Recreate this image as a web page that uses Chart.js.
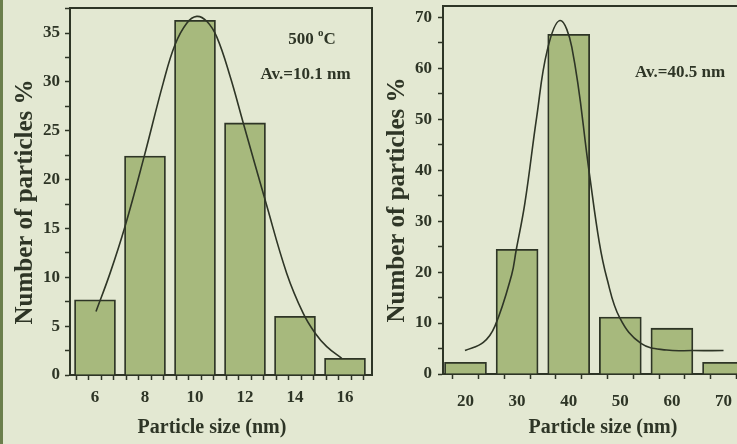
<!DOCTYPE html>
<html><head><meta charset="utf-8">
<script src="https://cdn.jsdelivr.net/npm/chart.js@4"></script>
<style>
html,body{margin:0;padding:0;width:737px;height:444px;overflow:hidden;background:#e3e8d2;}
#wrap{position:relative;width:737px;height:444px;overflow:hidden;background:#e3e8d2;}
#c1{position:absolute;left:0;top:0;}
#c2{position:absolute;left:372px;top:0;}
#edge{position:absolute;left:0;top:0;width:3px;height:444px;background:#6b7f4c;}
</style></head><body>
<div id="wrap"><canvas id="c1" width="380" height="444"></canvas><canvas id="c2" width="400" height="444"></canvas><div id="edge"></div></div>
<script>
// ---- data ----
const leftSizes   = [6, 8, 10, 12, 14, 16];
const leftPercent = [7.7, 22.4, 36.3, 25.8, 6.0, 1.7];
const leftFitX = [6.04, 6.6, 7.2, 7.96, 8.73, 9.2, 9.67, 10.07, 10.47, 10.87, 11.4, 11.93, 12.84, 13.67, 14.33, 14.8, 15.27, 15.87];
const leftFitY = [6.5, 10.4, 15.2, 22.3, 29.9, 33.8, 36.0, 36.7, 36.2, 34.6, 30.6, 25.8, 17.6, 10.4, 6.3, 4.3, 2.9, 1.7];
const leftXLabels = [6, 8, 10, 12, 14, 16];
const leftYLabels = [0, 5, 10, 15, 20, 25, 30, 35];

const rightSizes   = [20, 30, 40, 50, 60, 70];
const rightPercent = [2.3, 24.5, 66.7, 11.2, 9.0, 2.3];
const rightFitX = [19.9, 23.45, 25.7, 28.95, 29.8, 31.5, 33.8, 35.85, 38.3, 40.6, 44.0, 45.9, 47.4, 49.9, 54.0, 59.0, 64.0, 70.0];
const rightFitY = [4.6, 6.2, 9.4, 19.5, 24.2, 33.5, 50.5, 63.6, 69.4, 64.2, 39.4, 26.0, 18.8, 11.0, 6.0, 4.7, 4.6, 4.6];
const rightXLabels = [20, 30, 40, 50, 60, 70];
const rightYLabels = [0, 10, 20, 30, 40, 50, 60, 70];

// ---- styling ----
const INK = '#2e3526';
const BAR = '#a7b97d';
const FONT = '"Liberation Serif", "Times New Roman", serif';

function overlay(texts){
  return {
    id: 'overlay',
    afterDraw(chart){
      const ctx = chart.ctx, a = chart.chartArea;
      ctx.save();
      ctx.strokeStyle = INK; ctx.lineWidth = 2;
      ctx.beginPath();
      ctx.moveTo(a.left, a.top); ctx.lineTo(a.right, a.top); ctx.lineTo(a.right, a.bottom);
      ctx.stroke();
      ctx.fillStyle = INK;
      ctx.textBaseline = 'middle';
      texts.forEach(t => {
        ctx.save();
        ctx.translate(t.x, t.y);
        if (t.rot) ctx.rotate(t.rot);
        const runs = t.runs || [{t: t.t, size: t.size, dy: 0}];
        let w = 0;
        runs.forEach(r => { ctx.font = 'bold ' + r.size + 'px ' + FONT; r.w = ctx.measureText(r.t).width; w += r.w; });
        let x = -w / 2;
        ctx.textAlign = 'left';
        runs.forEach(r => { ctx.font = 'bold ' + r.size + 'px ' + FONT; ctx.fillText(r.t, x, r.dy || 0); x += r.w; });
        ctx.restore();
      });
      ctx.restore();
    }
  };
}

function makeChart(id, cfg){
  const bars = cfg.sizes.map((x, i) => ({x: x, y: cfg.pct[i]}));
  const fit = cfg.fitX.map((x, i) => ({x: x, y: cfg.fitY[i]}));
  const tickFont = {family: FONT, size: 17, weight: 'bold', lineHeight: 1.2};
  return new Chart(document.getElementById(id), {
    type: 'bar',
    data: {
      datasets: [
        {type: 'line', data: fit, borderColor: INK, borderWidth: 1.6, pointRadius: 0,
         tension: 0.4, fill: false, order: 0},
        {type: 'bar', data: bars, backgroundColor: BAR, borderColor: INK, borderWidth: 1.8,
         barThickness: cfg.barW, order: 1}
      ]
    },
    options: {
      responsive: false, animation: false,
      layout: {padding: cfg.padding},
      plugins: {legend: {display: false}, tooltip: {enabled: false}},
      scales: {
        x: {
          type: 'linear', min: cfg.xMin, max: cfg.xMax, offset: false,
          grid: {drawOnChartArea: false, drawTicks: true, tickLength: 5, tickWidth: 1.5, tickColor: INK},
          border: {display: true, color: INK, width: 2},
          ticks: {stepSize: cfg.xStep, includeBounds: false, autoSkip: false, maxRotation: 0, minRotation: 0,
                  padding: cfg.xPad, color: INK, font: tickFont,
                  callback: v => cfg.xLabels.includes(v) ? String(v) : ''},
          afterFit: s => { s.height = cfg.xH; s.paddingLeft = 0; s.paddingRight = 0; }
        },
        y: {
          type: 'linear', min: 0, max: cfg.yMax,
          grid: {drawOnChartArea: false, drawTicks: true, tickLength: 5, tickWidth: 1.5, tickColor: INK},
          border: {display: true, color: INK, width: 2},
          ticks: {stepSize: cfg.yStep, includeBounds: false, autoSkip: false,
                  padding: cfg.yPad, color: INK, font: tickFont,
                  callback: v => cfg.yLabels.includes(v) ? String(v) : ''},
          afterFit: s => { s.width = cfg.yW; s.paddingTop = 0; s.paddingBottom = 0; }
        }
      }
    },
    plugins: [overlay(cfg.texts)]
  });
}

makeChart('c1', {
  sizes: leftSizes, pct: leftPercent, fitX: leftFitX, fitY: leftFitY,
  xLabels: leftXLabels, yLabels: leftYLabels, barW: 41,
  xMin: 5, xMax: 17.08, xStep: 0.5, yMax: 37.56, yStep: 2.5,
  padding: {top: 8, right: 8, left: 0, bottom: 0}, xH: 69, yW: 70, xPad: 7, yPad: 5,
  texts: [
    {t: 'Number of particles %', size: 25, x: 26, y: 202, rot: -Math.PI / 2},
    {t: 'Particle size (nm)', size: 20, x: 212, y: 428},
    {runs: [{t: '500 ', size: 17}, {t: 'o', size: 11, dy: -7}, {t: 'C', size: 17}], x: 312, y: 40},
    {t: 'Av.=10.1 nm', size: 17, x: 305.5, y: 75}
  ]
});

makeChart('c2', {
  sizes: rightSizes, pct: rightPercent, fitX: rightFitX, fitY: rightFitY,
  xLabels: rightXLabels, yLabels: rightYLabels, barW: 42,
  xMin: 15.64, xMax: 77.65, xStep: 5, yMax: 72.26, yStep: 5,
  padding: {top: 6, right: 9, left: 0, bottom: 0}, xH: 70, yW: 71, xPad: 12, yPad: 6,
  texts: [
    {t: 'Number of particles %', size: 25, x: 26, y: 200, rot: -Math.PI / 2},
    {t: 'Particle size (nm)', size: 20, x: 231, y: 428},
    {t: 'Av.=40.5 nm', size: 17, x: 308, y: 72.5}
  ]
});
</script>
</body></html>
